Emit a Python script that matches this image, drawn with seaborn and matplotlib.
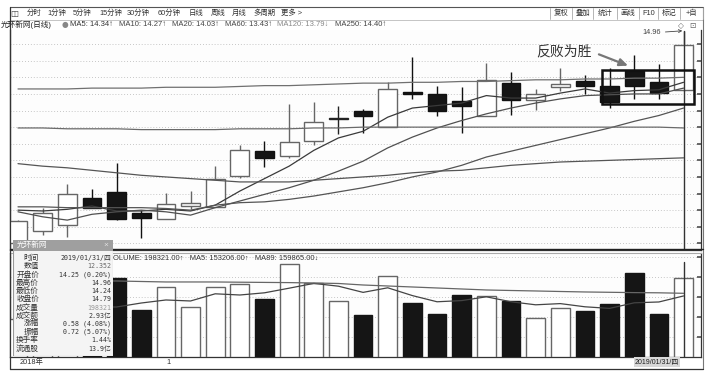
import numpy as np
import pandas as pd
import matplotlib
matplotlib.use("Agg")
import matplotlib.pyplot as plt
import seaborn as sns
from matplotlib.patches import Rectangle

# 光环新网 daily candles, last 28 sessions up to 2019/01/31
opens = [12.40, 12.55, 12.62, 12.95, 13.02, 12.77, 12.69, 12.85, 12.84, 13.21, 13.51, 13.45, 13.63, 13.90,
         14.00, 13.80, 14.22, 14.20, 14.12, 13.93, 14.33, 14.13, 14.28, 14.36, 14.30, 14.48, 14.34, 14.25]
highs = [12.68, 12.83, 13.12, 13.06, 13.37, 12.80, 13.01, 13.03, 13.33, 13.59, 13.63, 14.08, 14.10, 14.06,
         14.02, 14.34, 14.65, 14.30, 14.28, 14.57, 14.47, 14.26, 14.51, 14.43, 14.51, 14.67, 14.56, 14.96]
lows = [12.32, 12.50, 12.48, 12.83, 12.68, 12.46, 12.69, 12.81, 12.84, 13.19, 13.32, 13.43, 13.59, 13.72,
        13.73, 13.80, 14.14, 13.93, 13.73, 13.93, 13.95, 14.01, 14.24, 14.20, 14.03, 14.14, 14.14, 14.24]
closes = [12.67, 12.77, 13.00, 12.83, 12.69, 12.71, 12.87, 12.89, 13.18, 13.52, 13.43, 13.62, 13.86, 13.90,
          13.93, 14.26, 14.20, 14.00, 14.06, 14.37, 14.13, 14.20, 14.32, 14.30, 14.10, 14.30, 14.21, 14.79]

ma5 = [12.80, 12.79, 12.81, 12.85, 12.79, 12.79, 12.81, 12.79, 12.86, 13.03, 13.18, 13.33, 13.52, 13.67,
       13.75, 13.92, 14.03, 14.06, 14.09, 14.18, 14.15, 14.15, 14.21, 14.26, 14.21, 14.24, 14.25, 14.34]
ma10 = [12.78, 12.72, 12.68, 12.75, 12.78, 12.80, 12.78, 12.74, 12.83, 12.91, 12.99, 13.07, 13.16, 13.27,
        13.39, 13.55, 13.68, 13.79, 13.88, 13.96, 14.03, 14.09, 14.14, 14.18, 14.19, 14.20, 14.20, 14.27]
ma20 = [12.84, 12.84, 12.83, 12.83, 12.83, 12.83, 12.82, 12.80, 12.86, 12.89, 12.90, 12.93, 12.97, 13.02,
        13.07, 13.13, 13.20, 13.26, 13.34, 13.44, 13.51, 13.58, 13.65, 13.72, 13.79, 13.87, 13.94, 14.03]
ma60 = [13.36, 13.33, 13.31, 13.28, 13.25, 13.22, 13.20, 13.18, 13.16, 13.14, 13.14, 13.14, 13.16, 13.18,
        13.20, 13.22, 13.25, 13.27, 13.28, 13.31, 13.34, 13.36, 13.38, 13.39, 13.40, 13.41, 13.42, 13.43]
ma120 = [13.79, 13.79, 13.78, 13.78, 13.78, 13.77, 13.77, 13.77, 13.77, 13.78, 13.78, 13.78, 13.79, 13.79,
         13.80, 13.80, 13.80, 13.80, 13.80, 13.80, 13.80, 13.80, 13.80, 13.80, 13.80, 13.80, 13.80, 13.79]
ma250 = [14.26, 14.26, 14.26, 14.27, 14.27, 14.27, 14.28, 14.28, 14.28, 14.29, 14.30, 14.30, 14.31, 14.32,
         14.33, 14.33, 14.34, 14.34, 14.35, 14.35, 14.36, 14.37, 14.37, 14.38, 14.38, 14.39, 14.39, 14.40]

volumes = [95000, 105000, 130000, 100000, 198000, 118000, 175700, 125500, 175700, 183200, 145600, 233400,
           185700, 140600, 105400, 203300, 135500, 107900, 155600, 153100, 140600, 97900, 123000, 115500,
           133000, 210800, 107900, 198321]
vol_ma5 = [130500, 128000, 130500, 125500, 125500, 135500, 143100, 140600, 158600, 155600, 161100, 172700,
           184700, 177700, 162200, 173700, 154100, 138600, 141600, 151100, 138600, 131000, 134000, 126000,
           122000, 136000, 138100, 153206]
vol_ma89 = [190800, 190800, 190800, 190800, 190800, 189500, 188300, 188300, 188300, 187700, 187200, 186700,
            185700, 184500, 180700, 178200, 175700, 173200, 170700, 168200, 166900, 165700, 164400, 163200,
            162400, 161600, 161100, 159865]

ma_labels = ['MA5: 14.34↑', 'MA10: 14.27↑', 'MA20: 14.03↑', 'MA60: 13.43↑', 'MA120: 13.79↓', 'MA250: 14.40↑']
info_labels = ['时间', '数值', '开盘价', '最高价', '最低价', '收盘价', '成交量', '成交额', '涨幅', '振幅', '换手率', '流通股']
info_values = ['2019/01/31/四', '12.352', '14.25 (0.20%)', '14.96', '14.24', '14.79', '198321', '2.93亿',
               '0.58 (4.08%)', '0.72 (5.07%)', '1.44%', '13.9亿']
toolbar_left = ['分时', '1分钟', '5分钟', '15分钟', '30分钟', '60分钟', '日线', '周线', '月线', '多周期', '更多 >']
toolbar_right = ['复权', '叠加', '统计', '画线', 'F10', '标记', '+自']

W, H = 710, 378
STEP, X0 = 24.65, 18  # pixel spacing of candles and centre of the first one
CJK = ['Liberation Sans', 'Noto Sans CJK SC', 'DejaVu Sans']

sns.set_theme(style="white")
plt.rcParams['font.family'] = CJK
plt.rcParams['axes.unicode_minus'] = False

fig = plt.figure(figsize=(W / 100, H / 100), dpi=100)
fig.patch.set_facecolor('white')


def box(x0, y0, x1, y1):
    return fig.add_axes([x0 / W, 1 - y1 / H, (x1 - x0) / W, (y1 - y0) / H])


def ftext(x, y, s, **kw):
    kw.setdefault('fontsize', 5.5)
    kw.setdefault('va', 'center')
    return fig.text(x / W, 1 - y / H, s, **kw)


def hline(y, x0, x1, **kw):
    fig.add_artist(plt.Line2D([x0 / W, x1 / W], [1 - y / H, 1 - y / H], **kw))


def vline(x, y0, y1, **kw):
    fig.add_artist(plt.Line2D([x / W, x / W], [1 - y0 / H, 1 - y1 / H], **kw))


df = pd.DataFrame(dict(day=np.arange(len(opens)), open=opens, high=highs, low=lows, close=closes,
                       vol=volumes))
df['up'] = df.close >= df.open
xlim = ((10 - X0) / STEP, (701 - X0) / STEP)
last = df.day.iloc[-1]

# ---------------- price panel ----------------
ax = box(10, 30, 701, 250)
ax.set_facecolor('#fdfdfd')
ax.set_xlim(*xlim)
ax.set_ylim(12.32, 14.97)
ax.set_yticks(np.arange(12.4, 14.81, 0.2))
ax.set_xticks([])
ax.grid(axis='y', ls=(0, (1, 2.5)), color='#b5b5b5', lw=0.6)
ax.tick_params(axis='y', left=False, right=True, direction='in', length=3, color='#555',
               labelleft=False, labelright=False)
for s in ['left', 'right', 'bottom']:
    ax.spines[s].set_color('#333')
    ax.spines[s].set_linewidth(0.9)
ax.spines['top'].set_visible(False)

wick_col = np.where(df.up, '#666666', '#111111')
wick_col[(df.open == df.close).values] = '#222222'
ax.vlines(df.day, df.low, df.high, colors=wick_col, lw=1, zorder=2)
body_lo = np.minimum(df.open, df.close)
body_h = np.maximum((df.close - df.open).abs(), 0.004)
ax.bar(df.day, body_h, bottom=body_lo, width=0.76,
       color=np.where(df.up, 'white', '#151515'), edgecolor=wick_col, lw=1, zorder=3)

ma = pd.DataFrame({'day': df.day, 'MA5': ma5, 'MA10': ma10, 'MA20': ma20, 'MA60': ma60,
                   'MA120': ma120, 'MA250': ma250})
ma_long = ma.melt(id_vars='day', var_name='line', value_name='price')
ma_pal = {'MA5': '#3a3a3a', 'MA10': '#505050', 'MA20': '#555555', 'MA60': '#555555',
          'MA120': '#6a6a6a', 'MA250': '#707070'}
sns.lineplot(data=ma_long, x='day', y='price', hue='line', palette=ma_pal, estimator=None,
             lw=0.9, legend=False, ax=ax, zorder=4)
ax.set_xlabel('')
ax.set_ylabel('')

# crosshair on the last day
ax.plot([last, last], [12.32, df.high.iloc[-1]], color='#333', lw=1, zorder=6)
ax.annotate(f'{df.high.iloc[-1]:.2f}', xy=(last - 0.05, df.high.iloc[-1]), xytext=(25.7, 14.935),
            fontsize=5.3, color='#444', ha='center', va='center',
            arrowprops=dict(arrowstyle='->', color='#444', lw=0.6, shrinkA=1, shrinkB=0))

# highlight box over the last four sessions
hl = df.iloc[24:]
ax.add_patch(Rectangle((hl.day.iloc[0] - 0.31, 14.08), hl.day.iloc[-1] - hl.day.iloc[0] + 0.73, 0.41,
                       fill=False, ec='#111', lw=1.8, zorder=7))
ax.annotate('反败为胜', xy=(24.75, 14.54), xytext=(22.15, 14.71),
            fontsize=10, color='#333', ha='center', va='center', family=['Noto Sans CJK SC'],
            arrowprops=dict(arrowstyle='-|>,head_length=0.5,head_width=0.22', color='#777', lw=1.6,
                            relpos=(1, 0.5), shrinkA=3, shrinkB=0))

# ---------------- volume panel ----------------
vax = box(10, 253, 701, 357)
vax.set_facecolor('#fdfdfd')
vax.set_xlim(*xlim)
vax.set_ylim(0, 261000)
vax.set_yticks(np.arange(50000, 260000, 50000))
vax.set_xticks([])
vax.grid(axis='y', ls=(0, (1, 2.5)), color='#b5b5b5', lw=0.6)
vax.tick_params(axis='y', left=False, right=True, direction='in', length=3, color='#555',
                labelleft=False, labelright=False)
for s in ['left', 'right', 'bottom']:
    vax.spines[s].set_color('#333')
    vax.spines[s].set_linewidth(0.9)
vax.spines['top'].set_color('#aaa')
vax.spines['top'].set_linewidth(0.8)
vax.bar(df.day, df.vol, width=0.76, color=np.where(df.up, 'white', '#151515'),
        edgecolor=np.where(df.up, '#666666', '#151515'), lw=1, zorder=3)
vma = pd.DataFrame({'day': df.day, 'MA5': vol_ma5, 'MA89': vol_ma89}).melt(
    id_vars='day', var_name='line', value_name='vol')
sns.lineplot(data=vma, x='day', y='vol', hue='line', palette={'MA5': '#444', 'MA89': '#666'},
             estimator=None, lw=0.9, legend=False, ax=vax, zorder=4)
vax.set_xlabel('')
vax.set_ylabel('')
vax.plot([last, last], [0, 238000], color='#333', lw=1, zorder=6)

ftext(108, 258, f'VOLUME: {volumes[-1]:.2f}↑   MA5: {vol_ma5[-1]:.2f}↑   MA89: {vol_ma89[-1]:.2f}↓',
      color='#333', fontsize=5.4)

# ---------------- frame, toolbar and headers ----------------
hline(6.5, 10, 703, color='#555', lw=0.8)
hline(20, 10, 703, color='#bbb', lw=0.6)
vline(10, 6.5, 369, color='#333', lw=0.9)
vline(703, 6.5, 369, color='#777', lw=0.8)
hline(249.3, 10, 703, color='#222', lw=1.0)
hline(369, 10, 703, color='#333', lw=0.9)

ftext(14, 13.5, '◫', fontsize=6, color='#444', ha='center', family=['DejaVu Sans'])
for x, s in zip([27, 47, 73, 99, 127, 158, 189, 211, 232, 253, 281], toolbar_left):
    ftext(x, 13.5, s, color='#333', fontsize=5.3)
right_edges = [550, 572, 593, 617, 639, 658, 680, 703]
for i, s in enumerate(toolbar_right):
    ftext((right_edges[i] + right_edges[i + 1]) / 2, 13.5, s, color='#333', fontsize=5.3, ha='center')
for x in right_edges:
    vline(x, 8, 19, color='#aaa', lw=0.6)

ftext(1, 24.5, '光环新网(日线)', color='#222', fontsize=5.5)
ftext(64.5, 24.5, '●', color='#888', fontsize=5.5, ha='center', family=['DejaVu Sans'])
for x, s, c in zip([70, 119, 172, 225, 277, 335], ma_labels,
                   ['#333', '#444', '#444', '#444', '#888', '#444']):
    ftext(x, 24.5, s, color=c, fontsize=5.5)
ftext(681, 25.5, '◇', color='#666', fontsize=5.5, ha='center', family=['DejaVu Sans'])
ftext(692, 25.5, '⊡', color='#666', fontsize=5.5, ha='center', family=['DejaVu Sans'])

# date strip
ftext(20, 362, '2018年', color='#333', fontsize=5.3)
ftext(166, 362, '1', color='#333', fontsize=5.3)
ftext(657, 362, info_values[0], color='#222', fontsize=5.0, ha='center',
      bbox=dict(boxstyle='square,pad=0.15', fc='#d8d8d8', ec='none'))

# ---------------- floating info panel ----------------
pax = box(13, 240, 113, 356)
pax.set_zorder(10)
pax.set_xlim(0, 100)
pax.set_ylim(116, 0)
pax.axis('off')
pax.add_patch(Rectangle((0, 0), 100, 116, fc='#f4f4f4', ec='#999', lw=0.8))
pax.add_patch(Rectangle((0, 0), 100, 11, fc='#9f9f9f', ec='none'))
pax.text(4, 5.5, '光环新网', color='white', fontsize=5.5, va='center')
pax.text(93, 5.5, '×', color='#e0e0e0', fontsize=6, va='center', ha='center')
val_cols = ['#333', '#666', '#333', '#333', '#333', '#333', '#999', '#333', '#333', '#333', '#333', '#333']
for k, (lab, val) in enumerate(zip(info_labels, info_values)):
    y = 18.3 + 8.2 * k
    pax.text(26, y, lab, color='#333', fontsize=5.5, ha='right', va='center')
    pax.text(98, y, val, color=val_cols[k], fontsize=4.8, ha='right', va='center',
             family=['DejaVu Sans Mono', 'Noto Sans CJK SC'])

fig.savefig('out.png', dpi=100)
